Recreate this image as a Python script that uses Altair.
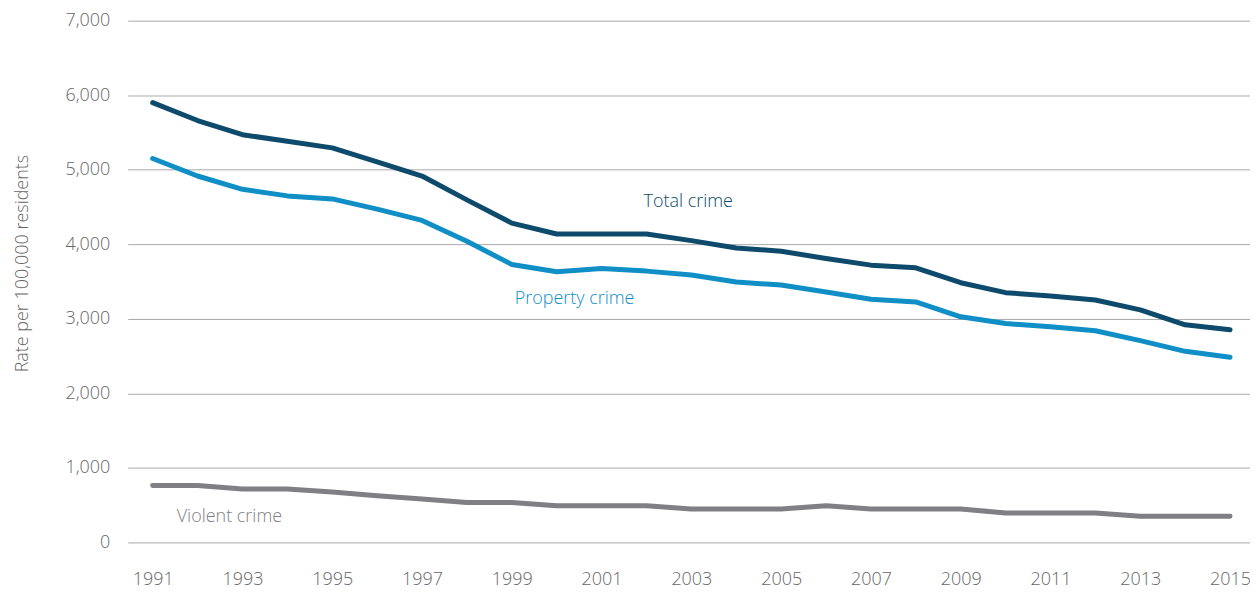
import altair as alt
import pandas as pd

years = list(range(1991, 2016))
total_crime = [5900, 5660, 5470, 5383, 5293, 5107, 4916, 4596, 4284, 4138, 4138, 4138,
               4049, 3951, 3907, 3809, 3720, 3684, 3484, 3351, 3307, 3253, 3120, 2920, 2853]
property_crime = [5151, 4916, 4738, 4649, 4609, 4471, 4320, 4040, 3729, 3631, 3676, 3640,
                  3587, 3493, 3453, 3360, 3262, 3227, 3027, 2937, 2893, 2840, 2707, 2564, 2484]
violent_crime = [764, 764, 716, 716, 676, 627, 582, 537, 537, 493, 493, 493,
                 449, 449, 449, 493, 449, 449, 449, 396, 396, 396, 351, 351, 351]

series_names = ["Total crime", "Property crime", "Violent crime"]
series_colors = ["#0d4a6c", "#0f8fc6", "#7f7f84"]

label_text = ["Total crime", "Property crime", "Violent crime"]
label_year = [2002.93, 2000.4, 1992.71]
label_value = [4573, 3267, 347]

rows = []
for name, vals in zip(series_names, [total_crime, property_crime, violent_crime]):
    for y, v in zip(years, vals):
        rows.append({"year": y, "value": v, "series": name})
df = pd.DataFrame(rows)
labels = pd.DataFrame({"text": label_text, "year": label_year, "value": label_value,
                       "series": series_names})

FONT = "Open Sans"
xscale = alt.Scale(domain=[1990.444, 2015.444], nice=False, zero=False)
yscale = alt.Scale(domain=[0, 7000], nice=False)
cscale = alt.Scale(domain=series_names, range=series_colors)

lines = alt.Chart(df).mark_line(strokeWidth=5, strokeCap="round", strokeJoin="round").encode(
    x=alt.X("year:Q", scale=xscale,
            axis=alt.Axis(values=list(range(1991, 2016, 2)), format="d", title=None,
                          grid=False, domain=False, ticks=False, labelPadding=28,
                          labelFontSize=18, labelColor="#666666", labelFont=FONT,
                          labelFontWeight=300)),
    y=alt.Y("value:Q", scale=yscale,
            axis=alt.Axis(values=list(range(0, 7001, 1000)), format=",d",
                          title="Rate per 100,000 residents", titleFontSize=18,
                          titleFontWeight=300, titleColor="#666666", titleFont=FONT,
                          titleX=-105, titleY=243, titleAlign="center", titleAngle=-90,
                          titleBaseline="middle",
                          domain=False, ticks=False, labelPadding=18, labelFontSize=18,
                          labelColor="#666666", labelFont=FONT, labelFontWeight=300,
                          grid=True, gridColor="#a9a9a9", gridWidth=1)),
    color=alt.Color("series:N", scale=cscale, legend=None),
    detail="series:N",
)

texts = alt.Chart(labels).mark_text(fontSize=18, font=FONT, fontWeight=300, align="center",
                                    baseline="middle").encode(
    x=alt.X("year:Q", scale=xscale),
    y=alt.Y("value:Q", scale=yscale),
    text="text:N",
    color=alt.Color("series:N", scale=cscale, legend=None),
)

chart = alt.layer(lines, texts).properties(
    width=1125, height=523,
    padding={"left": 120, "top": 12, "right": 0, "bottom": 50},
    autosize=alt.AutoSizeParams(type="none"),
).configure_view(stroke=None)

chart.save("out.html", embed_options={"renderer": "svg", "actions": False})
